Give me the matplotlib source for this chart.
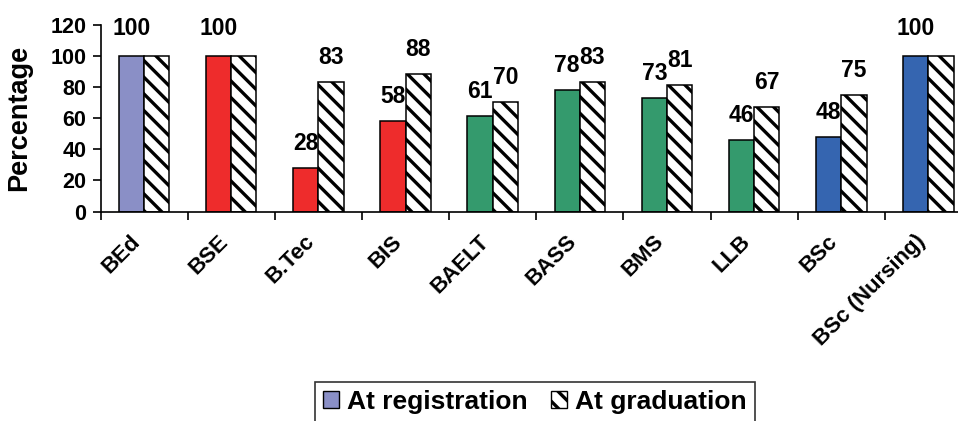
import matplotlib
matplotlib.use('Agg')
import numpy as np
from matplotlib import pyplot as plt
from matplotlib.patches import Patch
from matplotlib.transforms import ScaledTranslation

programmes = ['BEd', 'BSE', 'B.Tec', 'BIS', 'BAELT', 'BASS', 'BMS', 'LLB', 'BSc', 'BSc (Nursing)']
at_registration = [100, 100, 28, 58, 61, 78, 73, 46, 48, 100]
at_graduation = [100, 100, 83, 88, 70, 83, 81, 67, 75, 100]
registration_colors = ['#8A8FC6', '#EE2C2C', '#EE2C2C', '#EE2C2C', '#349A6D',
                       '#349A6D', '#349A6D', '#349A6D', '#3565B0', '#3565B0']

plt.rcParams['font.family'] = 'Liberation Sans'
plt.rcParams['font.weight'] = 'bold'
plt.rcParams['hatch.linewidth'] = 2.4

fig = plt.figure(figsize=(9.58, 4.21), dpi=100)
# axes run a little past the right edge, like the cropped original
ax = fig.add_axes([100.5 / 958, 1 - 211.5 / 421, 871.5 / 958, 187 / 421])

x = np.arange(len(programmes))
w = 0.29
ax.bar(x - w / 2, at_registration, w, color=registration_colors, edgecolor='black', linewidth=1.1)
ax.bar(x + w / 2, at_graduation, w, color='white', edgecolor='black', linewidth=1.1, hatch='\\\\')

# value labels, only one when both bars are equal
for xi, r, g in zip(x, at_registration, at_graduation):
    if r == g:
        ax.annotate(str(r), (xi - w / 2, r), xytext=(0, 15), textcoords='offset points',
                    ha='center', va='baseline', fontsize=16.5)
    else:
        for xx, v in ((xi - w / 2, r), (xi + w / 2, g)):
            ax.annotate(str(v), (xx, v), xytext=(0, 13), textcoords='offset points',
                        ha='center', va='baseline', fontsize=16.5)

ax.set_ylim(0, 120)
ax.set_yticks(range(0, 121, 20))
ax.tick_params(axis='y', direction='out', length=6, width=1.2, labelsize=15.5, pad=4)
ax.set_ylabel('Percentage', fontsize=19.5, fontweight='bold')
ax.yaxis.set_label_coords(-0.078, 0.5)

ax.set_xlim(-0.5, 9.5)
ax.set_xticks(x)
ax.set_xticklabels(programmes, rotation=45, ha='right', va='top', rotation_mode='anchor', fontsize=16)
ax.tick_params(axis='x', which='major', length=0, pad=14)
ax.set_xticks(np.arange(-0.5, 10), minor=True)
ax.tick_params(axis='x', which='minor', direction='out', length=6, width=1.2)
shift = ScaledTranslation(-0.14, 0, fig.dpi_scale_trans)
for lbl in ax.get_xticklabels():
    lbl.set_transform(lbl.get_transform() + shift)

for side in ['top', 'right']:
    ax.spines[side].set_visible(False)
for side in ['left', 'bottom']:
    ax.spines[side].set_linewidth(1.2)

handles = [Patch(facecolor='#8A8FC6', edgecolor='black', label='At registration'),
           Patch(facecolor='white', edgecolor='black', hatch='\\\\', label='At graduation')]
leg = fig.legend(handles=handles, loc='upper center', bbox_to_anchor=(535 / 958, 1 - 382 / 421),
                 ncol=2, frameon=True, fancybox=False, fontsize=19, handlelength=0.6,
                 handleheight=0.6, handletextpad=0.3, columnspacing=0.9, borderpad=0.3,
                 borderaxespad=0)
leg.get_frame().set_edgecolor('black')
leg.get_frame().set_linewidth(1.2)

fig.savefig('out.png', dpi=100)
